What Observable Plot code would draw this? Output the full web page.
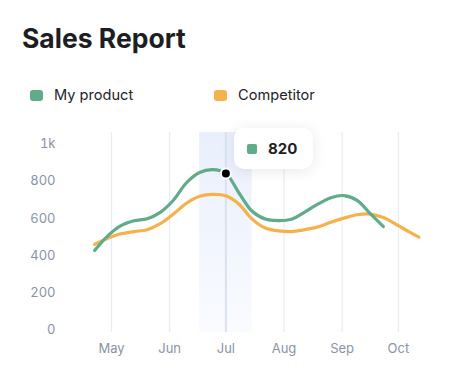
<!DOCTYPE html>
<html><head><meta charset="utf-8">
<script src="https://cdn.jsdelivr.net/npm/d3@7"></script>
<script src="https://cdn.jsdelivr.net/npm/@observablehq/plot@0.6"></script>
<style>
html,body{margin:0;padding:0;background:#fff;}
body{width:459px;height:381px;position:relative;overflow:hidden;font-family:Inter,"Noto Sans",sans-serif;}
#title{position:absolute;left:22px;top:25px;margin:0;font-size:26.5px;line-height:26px;font-weight:700;color:#1d1d24;}
.leg{position:absolute;top:88px;display:flex;align-items:center;font-size:14.6px;line-height:15px;color:#23232a;}
.sw{width:13px;height:11px;border-radius:3px;margin-right:11px;}
#chart{position:absolute;left:0;top:120px;}
#tip{position:absolute;left:234px;top:128px;width:79px;height:41px;background:#fff;border-radius:10px;box-shadow:0 2px 14px rgba(30,40,70,0.10);display:flex;align-items:center;font-size:15px;font-weight:700;color:#1e1e24;}
#tip .sw{width:10px;height:10px;border-radius:2px;margin-left:13px;margin-right:11px;}
</style></head><body>
<div id="title">Sales Report</div>
<div id="legend"></div>
<div id="chart"></div>
<div id="tip"></div>
<script>
// ---- data ----
const seriesNames = ["My product", "Competitor"];
const seriesColors = ["#5fab8a", "#f6b14b"];
const dates = ["2024-04-22","2024-04-29","2024-05-06","2024-05-13","2024-05-20","2024-05-27",
  "2024-06-03","2024-06-10","2024-06-17","2024-06-24","2024-07-01","2024-07-08","2024-07-15",
  "2024-07-22","2024-07-29","2024-08-05","2024-08-12","2024-08-19","2024-08-26","2024-09-02",
  "2024-09-09","2024-09-16","2024-09-23","2024-09-30","2024-10-07","2024-10-12"];
const myProduct = [406,485,540,566,577,611,676,770,825,840,820,715,617,575,567,574,612,655,690,701,675,604,535,null,null,null];
const competitor = [439,472,496,508,518,550,602,660,697,708,700,655,575,527,512,508,518,533,558,580,598,602,583,545,505,478];
const monthTicks = ["2024-05-01","2024-06-01","2024-07-01","2024-08-01","2024-09-01","2024-10-01"];
const yTicks = [0,200,400,600,800,1000];
const xDomain = ["2024-04-15","2024-10-20"];
const highlightIndex = 10;
const highlightBand = ["2024-06-17","2024-07-15"];

// ---- build ----
const P = s => new Date(s + "T00:00:00Z");
const rows = [];
dates.forEach((d,i) => {
  rows.push({date:P(d), value:myProduct[i], series:seriesNames[0]});
  rows.push({date:P(d), value:competitor[i], series:seriesNames[1]});
});
const hiDate = P(dates[highlightIndex]);
const hiVal = myProduct[highlightIndex];

const legend = document.getElementById("legend");
const legX = [30, 214];
seriesNames.forEach((n,i) => {
  const el = document.createElement("div");
  el.className = "leg"; el.style.left = legX[i] + "px";
  el.innerHTML = `<span class="sw" style="background:${seriesColors[i]}"></span>${n}`;
  legend.appendChild(el);
});
document.getElementById("tip").innerHTML = `<span class="sw" style="background:${seriesColors[0]}"></span>${hiVal}`;

const defs = () => {
  const g = document.createElementNS("http://www.w3.org/2000/svg","defs");
  g.innerHTML = `<linearGradient id="bandGrad" x1="0" y1="0" x2="0" y2="1">
    <stop offset="0" stop-color="#e9effc"/><stop offset="1" stop-color="#f9fbff"/></linearGradient>`;
  return g;
};

const chart = Plot.plot({
  width: 459, height: 250,
  marginLeft: 81, marginRight: 25.5, marginTop: 12, marginBottom: 38,
  style: {fontFamily: "Inter, sans-serif", fontSize: "13px", color: "#8a93a7", background: "transparent"},
  x: {type: "utc", domain: xDomain.map(P), label: null},
  y: {domain: [0, 1000], range: [205.7, 19.4], label: null},
  marks: [
    defs,
    Plot.rect([{a:P(highlightBand[0]), b:P(highlightBand[1])}], {x1:"a", x2:"b", fill:"url(#bandGrad)"}),
    Plot.ruleX(monthTicks.map(P), {stroke:"#e8ecf2", strokeWidth:1.2}),
    Plot.ruleX([hiDate], {stroke:"#dbe2ee", strokeWidth:2}),
    Plot.axisX({ticks: monthTicks.map(P), tickFormat: d3.utcFormat("%b"), tickSize: 0, tickPadding: 11, fill:"#8a93a7", label: null}),
    Plot.axisY({ticks: yTicks, tickFormat: d3.format("~s"), tickSize: 0, tickPadding: 26, dy: 4, fill:"#8a93a7", label: null}),
    Plot.line(rows.filter(r => r.series === seriesNames[1]), {x:"date", y:"value", stroke: seriesColors[1], strokeWidth: 3.2, curve:"catmull-rom"}),
    Plot.line(rows.filter(r => r.series === seriesNames[0]), {x:"date", y:"value", stroke: seriesColors[0], strokeWidth: 3.2, curve:"catmull-rom"}),
    Plot.dot([{date:hiDate, value:hiVal}], {x:"date", y:"value", r:5, fill:"#000", stroke:"#fff", strokeWidth:2})
  ]
});
document.getElementById("chart").appendChild(chart);
</script>
</body></html>
